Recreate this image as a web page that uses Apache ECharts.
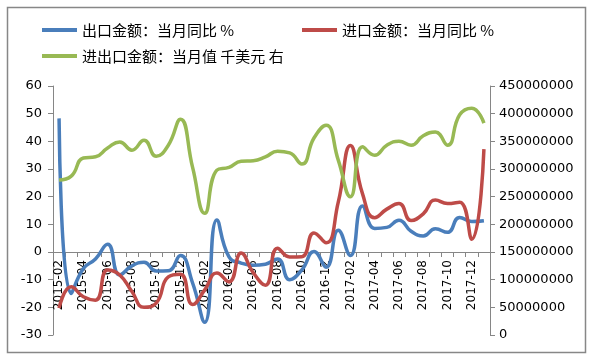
<!DOCTYPE html>
<html>
<head>
<meta charset="utf-8">
<script src="https://cdn.jsdelivr.net/npm/echarts@6/dist/echarts.min.js"></script>
<style>
html,body{margin:0;padding:0;background:#fff;}
#chart{width:594px;height:364px;}
</style>
</head>
<body>
<div id="chart"></div>
<script>
var months = ['2015-02','2015-03','2015-04','2015-05','2015-06','2015-07','2015-08','2015-09','2015-10','2015-11','2015-12',
'2016-01','2016-02','2016-03','2016-04','2016-05','2016-06','2016-07','2016-08','2016-09','2016-10','2016-11','2016-12',
'2017-01','2017-02','2017-03','2017-04','2017-05','2017-06','2017-07','2017-08','2017-09','2017-10','2017-11','2017-12','2018-01'];

var exportYoY = [48.3, -15.0, -6.0, -2.5, 2.8, -8.3, -5.0, -3.7, -6.9, -6.8, -1.3, -11.2, -25.4, 11.6, -1.8, -4.0, -4.8, -4.4, -2.5, -10.0, -6.5, 0.2, -5.5, 7.9, -1.3, 16.6, 8.5, 8.9, 11.5, 7.5, 5.8, 8.4, 7.1, 12.5, 11.0, 11.3];

var importYoY = [-20.3, -12.6, -16.2, -17.4, -6.5, -8.3, -14.3, -20.0, -18.5, -9.0, -8.0, -19.0, -13.7, -7.6, -10.8, -0.4, -7.5, -12.0, 1.4, -1.8, -1.7, 6.9, 3.3, 18.0, 38.5, 21.0, 12.4, 15.5, 17.5, 11.4, 13.8, 18.8, 17.5, 18.0, 4.6, 37.2];

var totalValue = [280000000, 287000000, 320000000, 322000000, 338000000, 349000000, 334000000, 352000000, 323000000, 343000000, 390000000,
303000000, 220000000, 298000000, 303000000, 314000000, 315000000, 322000000, 332000000, 329000000, 309000000, 356000000, 379000000,
316000000, 250000000, 340000000, 325000000, 343000000, 350000000, 343000000, 360000000, 367000000, 343000000, 398000000, 410000000, 383000000];

var leftTicks = {min: -30, max: 60, interval: 10};
var rightTicks = {min: 0, max: 450000000, interval: 50000000};

var names = ['出口金额：当月同比 %', '进口金额：当月同比 %', '进出口金额：当月值 千美元 右'];
var colors = ['#4A7EBB', '#BE4B48', '#98B954'];

var axisColor = '#868686';
var numFont = 'DejaVu Sans';
var cjkFont = '"Noto Sans CJK SC", sans-serif';

var gridBox = {left: 53, right: 104, top: 86, bottom: 29};
var chartH = 364;
var plotH = chartH - gridBox.top - gridBox.bottom;
// category axis crosses the left value axis at 0 (as in the source chart)
var zeroOffset = -((0 - leftTicks.min) / (leftTicks.max - leftTicks.min)) * plotH;

function legendAt(name, left, top) {
  return {
    data: [name],
    left: left, top: top,
    orient: 'horizontal',
    icon: 'rect',
    itemWidth: 35, itemHeight: 4,
    itemGap: 10,
    padding: 0,
    textStyle: {fontFamily: cjkFont, fontSize: 15, color: '#000', lineHeight: 16}
  };
}

var chart = echarts.init(document.getElementById('chart'), null, {renderer: 'canvas'});
chart.setOption({
  animation: false,
  backgroundColor: '#fff',
  graphic: [{
    type: 'rect', silent: true,
    shape: {x: 7.5, y: 7.5, width: 578, height: 345},
    style: {fill: 'none', stroke: '#878787', lineWidth: 1.5}
  }],
  legend: [
    legendAt(names[0], 42, 22),
    legendAt(names[1], 302, 22),
    legendAt(names[2], 42, 48)
  ],
  grid: {left: gridBox.left, right: gridBox.right, top: gridBox.top, bottom: gridBox.bottom, containLabel: false},
  xAxis: {
    type: 'category',
    data: months,
    boundaryGap: true,
    position: 'bottom',
    offset: zeroOffset,
    axisLine: {onZero: false, lineStyle: {color: axisColor, width: 1}},
    axisTick: {show: true, interval: 0, length: 5, inside: false, lineStyle: {color: axisColor}},
    axisLabel: {interval: 1, rotate: 90, margin: 8, color: '#000', fontFamily: numFont, fontSize: 12},
    splitLine: {show: false}
  },
  yAxis: [{
    type: 'value', position: 'left',
    min: leftTicks.min, max: leftTicks.max, interval: leftTicks.interval,
    axisLine: {show: true, lineStyle: {color: axisColor}},
    axisTick: {show: true, length: 5, lineStyle: {color: axisColor}},
    axisLabel: {margin: 11, color: '#000', fontFamily: numFont, fontSize: 13},
    splitLine: {show: false}
  }, {
    type: 'value', position: 'right',
    min: rightTicks.min, max: rightTicks.max, interval: rightTicks.interval,
    axisLine: {show: true, lineStyle: {color: axisColor}},
    axisTick: {show: true, length: 5, lineStyle: {color: axisColor}},
    axisLabel: {margin: 9, color: '#000', fontFamily: numFont, fontSize: 13, formatter: function (v) { return String(v); }},
    splitLine: {show: false}
  }],
  series: [{
    name: names[0], type: 'line', yAxisIndex: 0, data: exportYoY,
    smooth: 0.5, showSymbol: false, symbol: 'none',
    lineStyle: {color: colors[0], width: 3.5}, itemStyle: {color: colors[0]}
  }, {
    name: names[1], type: 'line', yAxisIndex: 0, data: importYoY,
    smooth: 0.5, showSymbol: false, symbol: 'none',
    lineStyle: {color: colors[1], width: 3.5}, itemStyle: {color: colors[1]}
  }, {
    name: names[2], type: 'line', yAxisIndex: 1, data: totalValue,
    smooth: 0.5, showSymbol: false, symbol: 'none',
    lineStyle: {color: colors[2], width: 3.5}, itemStyle: {color: colors[2]}
  }]
});
</script>
</body>
</html>
